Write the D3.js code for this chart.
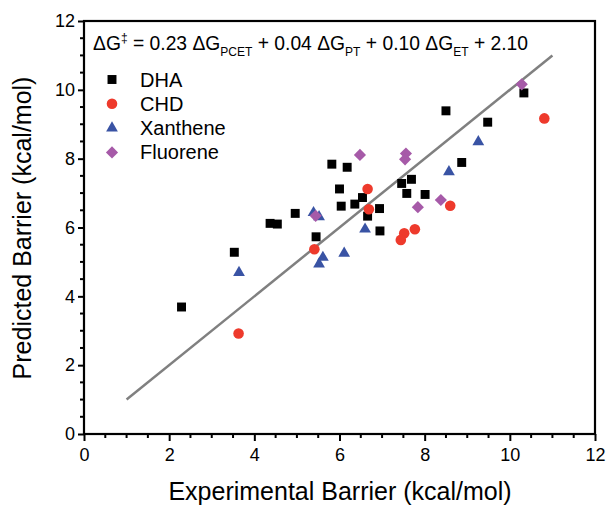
<!DOCTYPE html>
<html>
<head>
<meta charset="utf-8">
<script src="https://cdn.jsdelivr.net/npm/d3@7"></script>
<style>
  body { margin: 0; background: #fff; }
  text { font-family: "Liberation Sans", Arial, sans-serif; }
</style>
</head>
<body>
<div id="chart"></div>
<script>
// data
var dhaX = [2.29, 3.53, 4.37, 4.54, 4.96, 5.45, 5.82, 6.18, 6.00, 6.04, 6.36, 6.54, 6.66, 6.94, 6.95, 7.46, 7.69, 7.58, 8.01, 8.87, 8.50, 9.48, 10.33];
var dhaY = [3.69, 5.28, 6.12, 6.10, 6.41, 5.73, 7.84, 7.75, 7.12, 6.62, 6.68, 6.87, 6.33, 6.55, 5.90, 7.28, 7.40, 6.99, 6.96, 7.89, 9.39, 9.06, 9.91];

var chdX = [3.63, 5.41, 6.66, 6.69, 7.52, 7.44, 7.77, 8.60, 10.81];
var chdY = [2.92, 5.37, 7.12, 6.53, 5.83, 5.64, 5.95, 6.63, 9.17];

var xanX = [3.64, 5.39, 5.52, 5.61, 5.52, 6.11, 6.60, 8.57, 9.26];
var xanY = [4.69, 6.43, 6.31, 5.13, 4.94, 5.25, 5.95, 7.62, 8.49];

var fluX = [5.44, 6.48, 7.56, 7.54, 7.84, 8.38, 10.28];
var fluY = [6.34, 8.11, 8.15, 7.98, 6.59, 6.80, 10.16];

var fitLine = [[1, 1], [11, 11]];
var majorTicks = [0, 2, 4, 6, 8, 10, 12];

var svgWidth = 608;
var svgHeight = 506;

var svg = d3.select("#chart")
  .append("svg")
  .attr("width", svgWidth)
  .attr("height", svgHeight);

var x = d3.scaleLinear().domain([0, 12]).range([84, 595]);
var y = d3.scaleLinear().domain([0, 12]).range([434, 21]);

var minorTicks = d3.range(0, 12.01, 0.5);

// axes
var xAxis = d3.axisBottom(x).tickValues(majorTicks).tickSize(7).tickPadding(7).tickFormat(d3.format("d"));
var yAxis = d3.axisLeft(y).tickValues(majorTicks).tickSize(6).tickPadding(3).tickFormat(d3.format("d"));

var gx = svg.append("g").attr("transform", "translate(0,434)").call(xAxis);
var gy = svg.append("g").attr("transform", "translate(84,0)").call(yAxis);

[gx, gy].forEach(function(g) {
  g.select(".domain").remove();
  g.selectAll(".tick line").attr("stroke", "#000").attr("stroke-width", 2);
  g.selectAll(".tick text").attr("font-size", 18).attr("fill", "#000");
});

// minor ticks
svg.append("g").selectAll("line")
  .data(minorTicks.filter(d => d % 2 !== 0))
  .enter().append("line")
  .attr("x1", d => x(d)).attr("x2", d => x(d))
  .attr("y1", 434).attr("y2", 438)
  .attr("stroke", "#000").attr("stroke-width", 2);

svg.append("g").selectAll("line")
  .data(minorTicks.filter(d => d % 2 !== 0))
  .enter().append("line")
  .attr("y1", d => y(d)).attr("y2", d => y(d))
  .attr("x1", 84).attr("x2", 80)
  .attr("stroke", "#000").attr("stroke-width", 2);

// frame
svg.append("rect")
  .attr("x", x(0)).attr("y", y(12))
  .attr("width", x(12) - x(0)).attr("height", y(0) - y(12))
  .attr("fill", "none").attr("stroke", "#000").attr("stroke-width", 2.2);

// fit line
svg.append("line")
  .attr("x1", x(fitLine[0][0])).attr("y1", y(fitLine[0][1]))
  .attr("x2", x(fitLine[1][0])).attr("y2", y(fitLine[1][1]))
  .attr("stroke", "#808080").attr("stroke-width", 2.5);

// series
var series = [
  { name: "DHA", xs: dhaX, ys: dhaY, color: "#000000", type: d3.symbolSquare, size: 80, rot: 0 },
  { name: "CHD", xs: chdX, ys: chdY, color: "#ee3a2c", type: d3.symbolCircle, size: 88, rot: 0 },
  { name: "Xanthene", xs: xanX, ys: xanY, color: "#3953a4", type: d3.symbolTriangle, size: 60, rot: 0 },
  { name: "Fluorene", xs: fluX, ys: fluY, color: "#a65aa8", type: d3.symbolSquare, size: 74, rot: 45 }
];

series.forEach(function(s) {
  var pts = s.xs.map((v, i) => [v, s.ys[i]]);
  svg.append("g").selectAll("path")
    .data(pts)
    .enter().append("path")
    .attr("d", d3.symbol().type(s.type).size(s.size))
    .attr("transform", d => "translate(" + x(d[0]) + "," + y(d[1]) + ") rotate(" + s.rot + ")")
    .attr("fill", s.color);
});

// legend
var legend = svg.append("g");
series.forEach(function(s, i) {
  var ly = 79.5 + i * 24.3;
  legend.append("path")
    .attr("d", d3.symbol().type(s.type).size(s.size))
    .attr("transform", "translate(112," + ly + ") rotate(" + s.rot + ")")
    .attr("fill", s.color);
  legend.append("text")
    .attr("x", 140).attr("y", ly + 7)
    .attr("font-size", 20)
    .text(s.name);
});

// equation
var eq = svg.append("text").attr("x", 93).attr("y", 50).attr("font-size", 19.3);
var parts = [
  ["ΔG", 0], ["‡", 1], [" = 0.23 ΔG", 0], ["PCET", -1], [" + 0.04 ΔG", 0], ["PT", -1],
  [" + 0.10 ΔG", 0], ["ET", -1], [" + 2.10", 0]
];
var shift = function(k) { return k === 1 ? -8 : k === -1 ? 6 : 0; };
parts.forEach(function(p, i) {
  var prev = i > 0 ? parts[i - 1][1] : 0;
  var t = eq.append("tspan").text(p[0]).attr("dy", shift(p[1]) - shift(prev));
  if (p[1] !== 0) t.attr("font-size", 12);
});

// axis titles
svg.append("text")
  .attr("x", 340).attr("y", 500)
  .attr("text-anchor", "middle")
  .attr("font-size", 25)
  .text("Experimental Barrier (kcal/mol)");

svg.append("text")
  .attr("transform", "translate(31,228) rotate(-90)")
  .attr("text-anchor", "middle")
  .attr("font-size", 25)
  .text("Predicted Barrier (kcal/mol)");
</script>
</body>
</html>
